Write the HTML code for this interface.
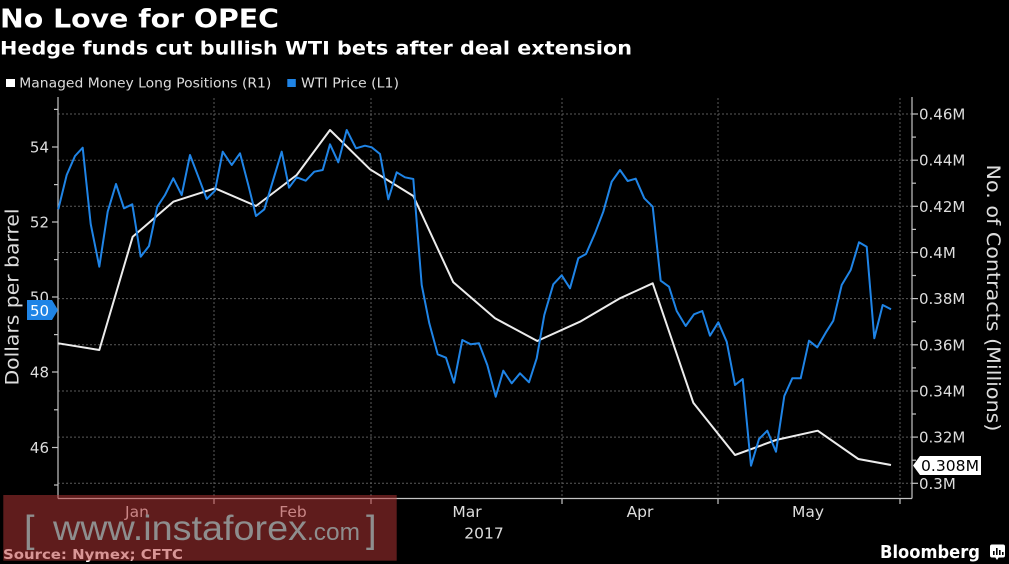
<!DOCTYPE html>
<html>
<head>
<meta charset="utf-8">
<style>
html,body{margin:0;padding:0;background:#000;}
svg{display:block;}
text{font-family:"DejaVu Sans","Liberation Sans",sans-serif;}
</style>
</head>
<body>
<svg width="1009" height="564" viewBox="0 0 1009 564" xmlns="http://www.w3.org/2000/svg">
<rect x="0" y="0" width="1009" height="564" fill="#000"/>

<!-- Titles -->
<text x="0" y="27.3" font-size="25.5" font-weight="bold" fill="#fff" textLength="279" lengthAdjust="spacingAndGlyphs">No Love for OPEC</text>
<text x="0" y="54.5" font-size="19" font-weight="bold" fill="#fff" textLength="632" lengthAdjust="spacingAndGlyphs">Hedge funds cut bullish WTI bets after deal extension</text>

<!-- Legend -->
<rect x="6" y="79" width="9" height="8" fill="#fff"/>
<text x="19.3" y="87.3" font-size="13.5" fill="#ddd" textLength="252" lengthAdjust="spacingAndGlyphs">Managed Money Long Positions (R1)</text>
<rect x="287.3" y="79" width="8.5" height="8" fill="#1f84e6"/>
<text x="301" y="87.3" font-size="13.5" fill="#ddd" textLength="98" lengthAdjust="spacingAndGlyphs">WTI Price (L1)</text>

<!-- Grid -->
<g stroke="#5a5a5a" stroke-width="1" stroke-dasharray="2,2" fill="none">
<line x1="58" y1="114" x2="912" y2="114"/>
<line x1="58" y1="160.2" x2="912" y2="160.2"/>
<line x1="58" y1="206.3" x2="912" y2="206.3"/>
<line x1="58" y1="252.5" x2="912" y2="252.5"/>
<line x1="58" y1="298.6" x2="912" y2="298.6"/>
<line x1="58" y1="344.8" x2="912" y2="344.8"/>
<line x1="58" y1="391" x2="912" y2="391"/>
<line x1="58" y1="437.1" x2="912" y2="437.1"/>
<line x1="58" y1="483.3" x2="912" y2="483.3"/>
<line x1="214" y1="98" x2="214" y2="498"/>
<line x1="371" y1="98" x2="371" y2="498"/>
<line x1="562" y1="98" x2="562" y2="498"/>
<line x1="718" y1="98" x2="718" y2="498"/>
<line x1="900" y1="98" x2="900" y2="498"/>
</g>

<!-- Axes -->
<g stroke="#c4c4c4" stroke-width="1.2" fill="none">
<line x1="58" y1="97" x2="58" y2="498.5"/>
<line x1="912" y1="97" x2="912" y2="498.5"/>
<line x1="58" y1="498.5" x2="912" y2="498.5"/>
<!-- bottom ticks -->
<line x1="214" y1="498" x2="214" y2="504"/>
<line x1="371" y1="498" x2="371" y2="504"/>
<line x1="562" y1="498" x2="562" y2="504"/>
<line x1="718" y1="498" x2="718" y2="504"/>
<line x1="900" y1="498" x2="900" y2="504"/>
<!-- left ticks major -->
<line x1="52" y1="147" x2="58" y2="147"/>
<line x1="52" y1="222" x2="58" y2="222"/>
<line x1="52" y1="297" x2="58" y2="297"/>
<line x1="52" y1="372" x2="58" y2="372"/>
<line x1="52" y1="447.5" x2="58" y2="447.5"/>
<!-- left ticks minor -->
<line x1="54" y1="109.4" x2="58" y2="109.4"/>
<line x1="54" y1="184.6" x2="58" y2="184.6"/>
<line x1="54" y1="259.6" x2="58" y2="259.6"/>
<line x1="54" y1="334.6" x2="58" y2="334.6"/>
<line x1="54" y1="409.8" x2="58" y2="409.8"/>
<line x1="54" y1="485" x2="58" y2="485"/>
<!-- right ticks major -->
<line x1="912" y1="114" x2="918" y2="114"/>
<line x1="912" y1="160.2" x2="918" y2="160.2"/>
<line x1="912" y1="206.3" x2="918" y2="206.3"/>
<line x1="912" y1="252.5" x2="918" y2="252.5"/>
<line x1="912" y1="298.6" x2="918" y2="298.6"/>
<line x1="912" y1="344.8" x2="918" y2="344.8"/>
<line x1="912" y1="391" x2="918" y2="391"/>
<line x1="912" y1="437.1" x2="918" y2="437.1"/>
<line x1="912" y1="483.3" x2="918" y2="483.3"/>
<!-- right ticks minor -->
<line x1="912" y1="137.1" x2="916" y2="137.1"/>
<line x1="912" y1="183.2" x2="916" y2="183.2"/>
<line x1="912" y1="229.4" x2="916" y2="229.4"/>
<line x1="912" y1="275.5" x2="916" y2="275.5"/>
<line x1="912" y1="321.7" x2="916" y2="321.7"/>
<line x1="912" y1="367.9" x2="916" y2="367.9"/>
<line x1="912" y1="414" x2="916" y2="414"/>
<line x1="912" y1="460.2" x2="916" y2="460.2"/>
</g>

<!-- Left tick labels -->
<g font-size="15" fill="#ddd" text-anchor="end">
<text x="49" y="152.5">54</text>
<text x="49" y="227.5">52</text>
<text x="49" y="302.5">50</text>
<text x="49" y="377.5">48</text>
<text x="49" y="453">46</text>
</g>

<!-- Right tick labels -->
<g font-size="15" fill="#ddd">
<text x="919" y="119.5">0.46M</text>
<text x="919" y="165.7">0.44M</text>
<text x="919" y="211.8">0.42M</text>
<text x="919" y="258">0.4M</text>
<text x="919" y="304.1">0.38M</text>
<text x="919" y="350.3">0.36M</text>
<text x="919" y="396.5">0.34M</text>
<text x="919" y="442.6">0.32M</text>
<text x="919" y="488.8">0.3M</text>
</g>

<!-- Axis titles -->
<text transform="translate(18.5,297) rotate(-90)" text-anchor="middle" font-size="19" fill="#ddd" textLength="177" lengthAdjust="spacingAndGlyphs">Dollars per barrel</text>
<text transform="translate(987,298) rotate(90)" text-anchor="middle" font-size="19" fill="#ddd" textLength="267" lengthAdjust="spacingAndGlyphs">No. of Contracts (Millions)</text>

<!-- Month labels -->
<g font-size="15.5" fill="#ddd" text-anchor="middle">
<text x="137" y="517">Jan</text>
<text x="293" y="517">Feb</text>
<text x="467" y="517">Mar</text>
<text x="640" y="517">Apr</text>
<text x="808" y="517">May</text>
<text x="484" y="538.5">2017</text>
</g>

<!-- White series -->
<polyline fill="none" stroke="#ececec" stroke-width="2" stroke-linejoin="round" points="58.3,343.3 99.3,350 132.7,236.7 173.3,201.7 215,188.3 256,206 296.7,175 330,130 370,169.3 413.3,196 453.3,282.3 495,318.3 537.3,341 580,321.7 620,298.3 652.7,283.3 693.3,402.7 735,455 776,440 817.7,430.7 858.3,459 891,465"/>

<!-- Blue series -->
<polyline fill="none" stroke="#1f84e6" stroke-width="2" stroke-linejoin="round" points="58.3,209.3 66.7,175 75,156 82.7,147.7 90.7,224 99.3,266.7 107.7,211.7 116,184 124,208.3 132.3,204.3 140.7,256.7 149,246 157.3,206.7 165,195 173.3,178.3 181.7,195 190,155 198.3,176.7 206.7,199 215,190.7 222.7,151.7 231.7,165 240,153.3 248.3,185 256,216 264.3,209.3 281.7,151.7 289,187.7 296.7,177.3 305.7,180.7 314.3,171.7 322.7,170 330,144.3 338.3,162.3 346.7,130 356,148.3 365,145.7 371.7,147.3 380,154 388.3,199.3 396.7,172.3 405,177.3 413.3,179 421.7,285 429.3,323.3 437.7,354.3 446,357.7 454,382.7 462.3,340 470.7,344.3 479,343.3 487.3,365 495.7,396.7 503.3,370.7 511.7,383.3 520,373.3 529,382.3 536.7,358.3 544.3,315 553.3,284.3 561.7,275.3 570,288.3 578.3,258.3 586,254 595,233.3 603.3,211.7 611.7,181.7 620,170 627.7,181 635.7,178.7 644.3,198.3 652.7,206.7 660.7,280.7 669,286.7 676.7,311 685.7,326 694,314.3 702.3,311 710,335.7 718.3,322.3 726.7,341.7 735,385 742.7,379 751,465.7 759,439 767.3,430.7 776,451.7 784.3,396 792.3,378.3 800.7,378.3 809,340.7 817.3,347.3 825.7,332.7 833.3,320.7 841.7,285 850.7,270 859,242.3 866.7,246.7 874.3,338.3 882.7,305 891,309.3"/>

<!-- Last value labels -->
<polygon points="27,300 52,300 58,310 52,320 27,320" fill="#1f84e6"/>
<text x="39.5" y="315.8" font-size="15" fill="#fff" text-anchor="middle">50</text>
<polygon points="913,465.5 920,456 981,456 981,475 920,475" fill="#fff"/>
<text x="921" y="471" font-size="15" fill="#000" textLength="58" lengthAdjust="spacingAndGlyphs">0.308M</text>

<!-- Source (under watermark) -->
<text x="3" y="559" font-size="13.5" font-weight="bold" fill="#fff" textLength="180" lengthAdjust="spacingAndGlyphs">Source: Nymex; CFTC</text>

<!-- Watermark overlay -->
<rect x="3.3" y="495" width="393.4" height="65.7" fill="rgba(183,54,54,0.52)"/>
<g fill="#8e8e8e" font-family="'Liberation Sans',sans-serif">
<text x="24" y="542" font-size="38" font-weight="normal" style="font-family:'Liberation Sans',sans-serif">[</text>
<text x="53" y="540" font-size="35" style="font-family:'Liberation Sans',sans-serif" textLength="254" lengthAdjust="spacingAndGlyphs">www.instaforex</text>
<text x="307" y="540" font-size="24" style="font-family:'Liberation Sans',sans-serif" textLength="53" lengthAdjust="spacingAndGlyphs">.com</text>
<text x="366" y="542" font-size="38" style="font-family:'Liberation Sans',sans-serif">]</text>
</g>

<!-- Bloomberg logo -->
<text x="880" y="558" font-size="18" font-weight="bold" fill="#fff" textLength="100" lengthAdjust="spacingAndGlyphs">Bloomberg</text>
<rect x="990" y="544.5" width="15" height="13" rx="2" fill="#fff"/>
<polygon points="995,557 999,557 997,560" fill="#fff"/>
<g fill="#000">
<rect x="993" y="551" width="1.6" height="4"/>
<rect x="996" y="548" width="1.6" height="7"/>
<rect x="999" y="550" width="1.6" height="5"/>
<rect x="1002" y="552" width="1.6" height="3"/>
</g>
</svg>
</body>
</html>
